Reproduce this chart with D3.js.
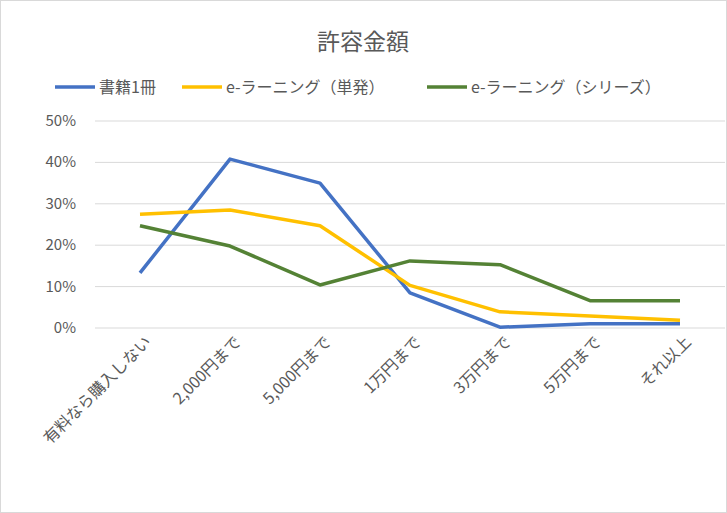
<!DOCTYPE html><html><head><meta charset="utf-8"><script src="https://cdn.jsdelivr.net/npm/d3@7"></script>
<style>body{margin:0}svg{font-family:"Noto Sans CJK JP",sans-serif}</style></head><body><script>
const categories=["有料なら購入しない","2,000円まで","5,000円まで","1万円まで","3万円まで","5万円まで","それ以上"];
const seriesNames=["書籍1冊","e-ラーニング（単発）","e-ラーニング（シリーズ）"];
const colors=["#4472C4","#FFC000","#548235"];
const book=[13.3,40.8,35.0,8.5,0.2,1.0,1.0];
const single=[27.5,28.5,24.7,10.3,3.9,2.9,1.9];
const series=[24.7,19.8,10.4,16.2,15.3,6.6,6.6];
const yTicks=[0,10,20,30,40,50];
const data=[book,single,series];
const W=727,H=513;
const svg=d3.select("body").append("svg").attr("width",W).attr("height",H);
svg.append("rect").attr("x",0.5).attr("y",0.5).attr("width",W-1).attr("height",H-1).attr("fill","#fff").attr("stroke","#d9d9d9");
const x=d3.scaleBand().domain(categories).range([95,725]);
const y=d3.scaleLinear().domain([0,50]).range([328,121]);
svg.append("text").attr("x",363).attr("y",50).attr("text-anchor","middle").attr("font-size",23).attr("fill","#595959").text("許容金額");
svg.selectAll(".g").data(yTicks).join("line").attr("x1",95).attr("x2",725).attr("y1",d=>y(d)).attr("y2",d=>y(d)).attr("stroke","#d9d9d9");
svg.selectAll(".yl").data(yTicks).join("text").attr("x",76).attr("y",d=>y(d)+5).attr("text-anchor","end").attr("font-size",15).attr("fill","#595959").text(d=>d+"%");
categories.forEach(c=>{const cx=x(c)+x.bandwidth()/2;
svg.append("text").attr("transform",`translate(${cx+12},${343}) rotate(-45)`).attr("text-anchor","end").attr("font-size",16).attr("fill","#595959").text(c);});
const line=d3.line().x((d,i)=>x(categories[i])+x.bandwidth()/2).y(d=>y(d));
data.forEach((s,k)=>svg.append("path").attr("d",line(s)).attr("fill","none").attr("stroke",colors[k]).attr("stroke-width",3.5).attr("stroke-linejoin","round"));
const lx=[55,182,427];
seriesNames.forEach((n,k)=>{svg.append("line").attr("x1",lx[k]).attr("x2",lx[k]+40).attr("y1",87).attr("y2",87).attr("stroke",colors[k]).attr("stroke-width",3.5);
svg.append("text").attr("x",lx[k]+44).attr("y",93).attr("font-size",16).attr("fill","#595959").text(n);});
</script></body></html>
